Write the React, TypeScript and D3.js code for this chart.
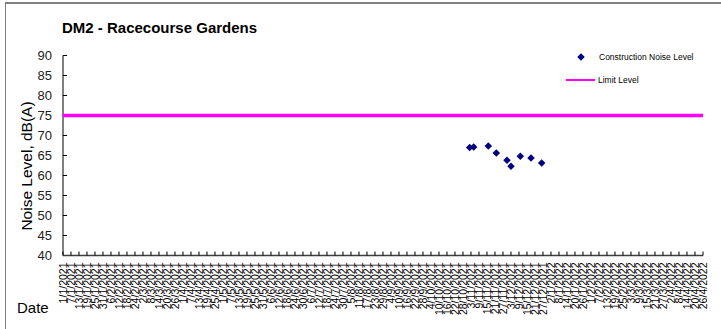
import React from "react";
import * as d3 from "d3";

const measureDates = [
  "2021-11-02", "2021-11-05", "2021-11-16", "2021-11-22", "2021-11-30",
  "2021-12-03", "2021-12-10", "2021-12-18", "2021-12-26",
];
const noiseLevels = [67.0, 67.1, 67.4, 65.6, 63.8, 62.3, 64.8, 64.4, 63.1];
const limitLevel = 75;
const yTicks = [40, 45, 50, 55, 60, 65, 70, 75, 80, 85, 90];
const xStart = "2021-01-01";
const xEnd = "2022-04-26";
const tickStepDays = 6;

const FONT = "Liberation Sans, Arial, sans-serif";

export default function App() {
  const W = 721, H = 329;
  const left = 63, right = 703, top = 55.5, bottom = 255.5;
  const parse = (s: string) => new Date(s + "T00:00:00Z");
  const x = d3.scaleUtc().domain([parse(xStart), parse(xEnd)]).range([left, right]);
  const y = d3.scaleLinear().domain([40, 90]).range([bottom, top]);
  const xTicks = d3.utcDay.range(parse(xStart), new Date(parse(xEnd).getTime() + 86400000), tickStepDays);
  const fmt = d3.utcFormat("%-d/%-m/%Y");
  const s = 5.2;
  const diamond = `M0,${-s * 0.72}L${s * 0.72},0L0,${s * 0.72}L${-s * 0.72},0Z`;

  return (
    <svg width={W} height={H} style={{ position: "absolute", left: 0, top: 0, background: "#fff" }} fontFamily={FONT}>
      <rect x={5.5} y={3} width={730} height={340} fill="#fff" stroke="#808080" strokeWidth={1} />
      <line x1={5} x2={721} y1={3} y2={3} stroke="#808080" strokeWidth={2} />
      <text x={62} y={33} fontSize={15} fontWeight="bold" fill="#000">DM2 - Racecourse Gardens</text>

      {/* y axis */}
      <line x1={left} x2={left} y1={top} y2={bottom} stroke="#000" strokeWidth={1} />
      {yTicks.map((t) => (
        <g key={t}>
          <line x1={left} x2={left + 4} y1={y(t)} y2={y(t)} stroke="#000" />
          <text x={52} y={y(t)} dy="0.35em" textAnchor="end" fontSize={13} fill="#222">{t}</text>
        </g>
      ))}
      <text transform={`translate(32,166) rotate(-90)`} textAnchor="middle" fontSize={15.5} fill="#000">Noise Level, dB(A)</text>

      {/* x axis */}
      <line x1={left} x2={right} y1={bottom} y2={bottom} stroke="#404040" strokeWidth={1.5} />
      {xTicks.map((d, i) => (
        <g key={i}>
          <line x1={x(d)} x2={x(d)} y1={bottom} y2={bottom - 4} stroke="#000" />
          <text transform={`translate(${x(d) + 3.8},${bottom + 7}) rotate(-90)`} textAnchor="end" fontSize={10.5} fill="#000">{fmt(d)}</text>
        </g>
      ))}
      <text x={17} y={313} fontSize={15} fill="#000">Date</text>

      {/* limit line */}
      <line x1={left} x2={right} y1={y(limitLevel)} y2={y(limitLevel)} stroke="#FF00FF" strokeWidth={3.5} />

      {/* points */}
      {measureDates.map((d, i) => (
        <path key={i} d={diamond} transform={`translate(${x(parse(d))},${y(noiseLevels[i])})`} fill="#000080" />
      ))}

      {/* legend */}
      <path d={diamond} transform="translate(581,57)" fill="#000080" />
      <text x={599} y={57} dy="0.35em" fontSize={8.5} fill="#000">Construction Noise Level</text>
      <line x1={566} x2={595} y1={80} y2={80} stroke="#FF00FF" strokeWidth={2} />
      <text x={598} y={80} dy="0.35em" fontSize={8.5} fill="#000">Limit Level</text>
    </svg>
  );
}
